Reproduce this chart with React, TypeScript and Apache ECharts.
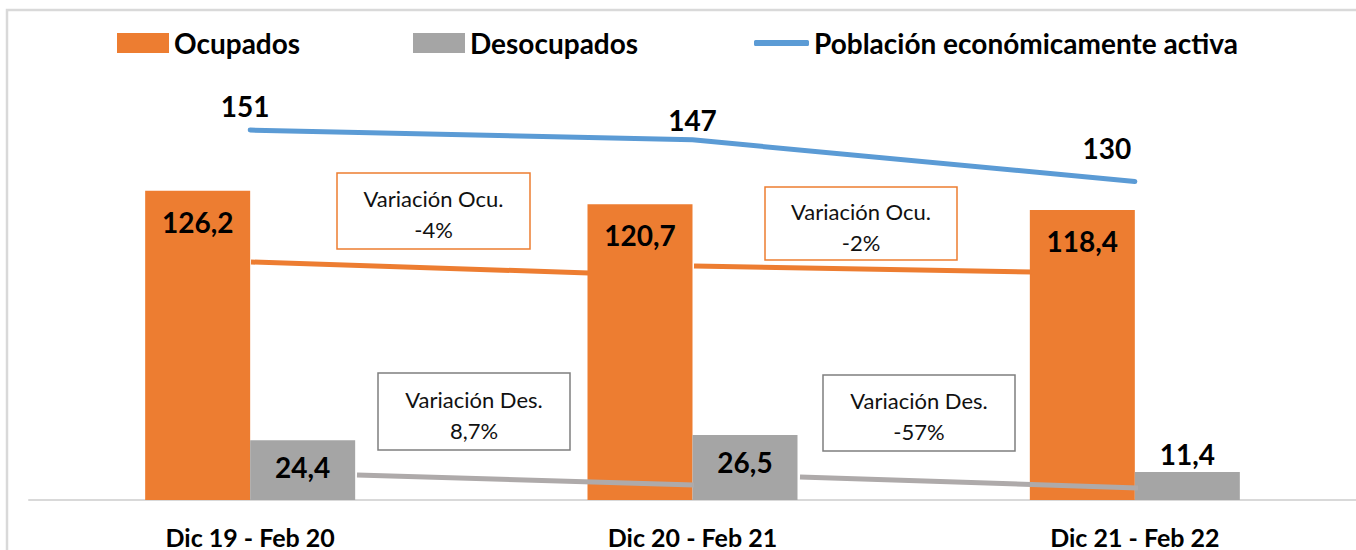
import React, { useEffect, useRef } from "react";
import * as echarts from "echarts";

const categories = ["Dic 19 - Feb 20", "Dic 20 - Feb 21", "Dic 21 - Feb 22"];
const ocupados = [126.2, 120.7, 118.4];
const desocupados = [24.4, 26.5, 11.4];
const pea = [151, 147, 130];
const notes = [
  "Variación Ocu.\n-4%",
  "Variación Ocu.\n-2%",
  "Variación Des.\n8,7%",
  "Variación Des.\n-57%",
];

const FONT = "Lato";
const fmt = (v: number) => v.toFixed(1).replace(".", ",");

export default function App() {
  const ref = useRef<HTMLDivElement>(null);
  useEffect(() => {
    if (!ref.current) return;
    const chart = echarts.init(ref.current, undefined, { renderer: "svg" });

    const box = (x: number, y: number, w: number, h: number, stroke: string, text: string) => ({
      type: "group",
      z: 50,
      children: [
        { type: "rect", shape: { x, y, width: w, height: h }, style: { fill: "#fff", stroke, lineWidth: 1.5 } },
        {
          type: "text",
          x: x + w / 2,
          y: y + h / 2 + 3,
          style: {
            text,
            fill: "#111",
            font: `22px ${FONT}`,
            align: "center",
            verticalAlign: "middle",
            lineHeight: 31,
          },
        },
      ],
    });
    const seg = (x1: number, y1: number, x2: number, y2: number, stroke: string) => ({
      type: "line",
      z: 40,
      shape: { x1, y1, x2, y2 },
      style: { stroke, lineWidth: 5 },
    });

    const legendBase = {
      top: 24,
      itemHeight: 20,
      itemWidth: 52,
      icon: "rect",
      textStyle: { fontFamily: FONT, fontWeight: "bold", fontSize: 28, color: "#000" },
    };

    chart.setOption({
      animation: false,
      textStyle: { fontFamily: FONT },
      legend: [
        { ...legendBase, left: 112, data: ["Ocupados"] },
        { ...legendBase, left: 408, data: ["Desocupados"] },
        { ...legendBase, left: 749, itemWidth: 55, itemHeight: 6, icon: "roundRect", data: ["Población económicamente activa"] },
      ],
      grid: { left: 29, top: 108, width: 1331, height: 392, containLabel: false },
      xAxis: {
        type: "category",
        data: categories,
        axisTick: { show: false },
        axisLine: { lineStyle: { color: "#d9d9d9", width: 2 } },
        axisLabel: { fontFamily: FONT, fontWeight: "bold", fontSize: 25, color: "#000", margin: 24 },
      },
      yAxis: { type: "value", min: 0, max: 160, show: false, splitLine: { show: false } },
      series: [
        {
          name: "Ocupados",
          type: "bar",
          data: ocupados,
          barWidth: 105,
          barGap: "0%",
          itemStyle: { color: "#ed7d31" },
          label: {
            show: true,
            position: "insideTop",
            distance: 17,
            formatter: (p: any) => fmt(p.value),
            fontFamily: FONT,
            fontWeight: "bold",
            fontSize: 28,
            color: "#000",
          },
        },
        {
          name: "Desocupados",
          type: "bar",
          data: desocupados.map((v, i) =>
            i === 2 ? { value: v, label: { position: "top", distance: 4 } } : v
          ),
          barWidth: 105,
          barGap: "0%",
          itemStyle: { color: "#a5a5a5" },
          label: {
            show: true,
            position: "insideTop",
            distance: 13,
            formatter: (p: any) => fmt(p.value),
            fontFamily: FONT,
            fontWeight: "bold",
            fontSize: 28,
            color: "#000",
          },
        },
        {
          name: "Población económicamente activa",
          type: "line",
          data: pea.map((v, i) => ({
            value: v,
            label: {
              offset: [[-5, 0], [0, 0], [-28, 0]][i],
              distance: [10, 5, 19][i],
            },
          })),
          symbol: "circle",
          symbolSize: 1,
          showSymbol: true,
          z: 5,
          itemStyle: { color: "#5b9bd5" },
          lineStyle: { color: "#5b9bd5", width: 5, cap: "round" },
          label: {
            show: true,
            position: "top",
            fontFamily: FONT,
            fontWeight: "bold",
            fontSize: 28,
            color: "#000",
          },
        },
      ],
      graphic: [
        {
          type: "rect",
          z: 0,
          silent: true,
          shape: { x: 7, y: 10, width: 1400, height: 600 },
          style: { fill: "none", stroke: "#d9d9d9", lineWidth: 2.5 },
        },
        seg(251, 262, 589, 273, "#ed7d31"),
        seg(694, 266, 1032, 272, "#ed7d31"),
        seg(357, 475, 694, 485, "#aeaaaa"),
        seg(800, 477, 1138, 488, "#aeaaaa"),
        box(337, 173, 193, 76, "#ed7d31", notes[0]),
        box(765, 187, 192, 73, "#ed7d31", notes[1]),
        box(378, 373, 192, 77, "#7f7f7f", notes[2]),
        box(823, 375, 192, 76, "#7f7f7f", notes[3]),
      ],
    });
    return () => chart.dispose();
  }, []);

  return (
    <div
      ref={ref}
      style={{ position: "fixed", left: 0, top: 0, width: 1356, height: 550, background: "#fff" }}
    />
  );
}
